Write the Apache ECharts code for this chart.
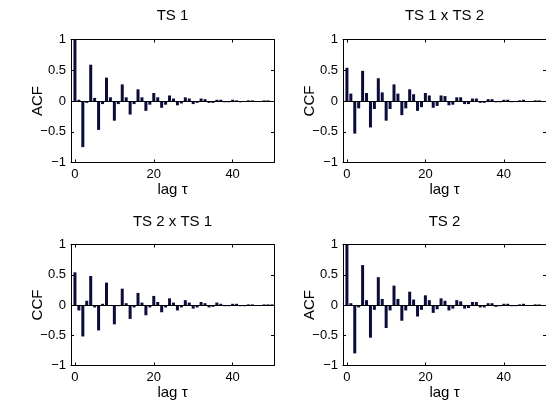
<!DOCTYPE html>
<html><head><meta charset="utf-8">
<script src="https://cdn.jsdelivr.net/npm/echarts@6/dist/echarts.min.js"></script>
<style>html,body{margin:0;padding:0;background:#fff}#c{width:546px;height:410px}</style>
</head><body><div id="c"></div>
<script>
const lags = Array.from({length: 51}, (_, i) => i);
const acfTS1 = [1.0,0.02,-0.75,-0.03,0.59,0.05,-0.47,-0.05,0.38,0.06,-0.32,-0.05,0.27,0.06,-0.22,-0.05,0.19,0.06,-0.16,-0.06,0.13,0.06,-0.11,-0.06,0.09,0.04,-0.07,-0.04,0.06,0.04,-0.05,-0.03,0.04,0.03,-0.03,-0.03,0.02,0.02,-0.02,-0.02,0.02,0.01,-0.02,-0.01,0.01,0.01,-0.01,-0.01,0.01,0.01,-0.01];
const ccfTS1TS2 = [0.54,0.12,-0.53,-0.12,0.49,0.13,-0.43,-0.13,0.37,0.14,-0.32,-0.13,0.27,0.12,-0.23,-0.12,0.19,0.11,-0.16,-0.10,0.13,0.09,-0.11,-0.08,0.09,0.08,-0.07,-0.06,0.06,0.06,-0.05,-0.05,0.04,0.04,-0.03,-0.03,0.03,0.03,-0.02,-0.02,0.02,0.02,-0.02,-0.01,0.01,0.02,-0.01,-0.01,0.01,0.01,-0.01];
const ccfTS2TS1 = [0.54,-0.09,-0.52,0.07,0.48,-0.04,-0.42,0.02,0.37,0.00,-0.32,-0.02,0.27,0.03,-0.23,-0.04,0.20,0.04,-0.17,-0.04,0.15,0.05,-0.12,-0.04,0.11,0.04,-0.09,-0.04,0.08,0.04,-0.06,-0.04,0.05,0.03,-0.04,-0.03,0.04,0.02,-0.02,-0.02,0.02,0.02,-0.02,-0.02,0.01,0.01,-0.01,-0.01,0.01,0.01,0.01];
const acfTS2 = [1.0,0.03,-0.80,-0.04,0.66,0.08,-0.54,-0.08,0.46,0.10,-0.38,-0.09,0.32,0.10,-0.26,-0.09,0.22,0.09,-0.19,-0.08,0.16,0.08,-0.13,-0.07,0.11,0.07,-0.09,-0.06,0.08,0.06,-0.06,-0.05,0.05,0.05,-0.04,-0.04,0.03,0.03,-0.03,-0.02,0.02,0.02,-0.02,-0.02,0.01,0.02,-0.01,-0.01,0.01,0.01,-0.01];
const titles = ['TS 1', 'TS 1 x TS 2', 'TS 2 x TS 1', 'TS 2'];
const yNames = ['ACF', 'CCF', 'CCF', 'ACF'];
const xName = 'lag \u03c4';
const xTicks = [0, 20, 40];
const yTicks = [-1, -0.5, 0, 0.5, 1];
const yTickLabels = ['\u22121', '\u22120.5', '0', '0.5', '1'];
const seriesData = [acfTS1, ccfTS1TS2, ccfTS2TS1, acfTS2];

const FONT = 'Liberation Sans, Arial, sans-serif';
const grids = [
  {left: 71, top: 39.5, width: 203, height: 123},
  {left: 343, top: 39.5, width: 204, height: 123},
  {left: 71, top: 244.5, width: 203, height: 121},
  {left: 343, top: 244.5, width: 204, height: 121}
];
const xMax = [50.5, 50.75, 50.5, 50.75];
const titleOffset = [24, 24, 22.5, 22.5];
const option = {animation: false, grid: grids, xAxis: [], yAxis: [], series: [], graphic: []};
const line = () => ({show: true, onZero: false, lineStyle: {color: '#000', width: 1}});
grids.forEach((g, i) => {
  const tickStyle = () => ({show: true, inside: true, length: 3, lineStyle: {color: '#000', width: 1}});
  option.xAxis.push({
    type: 'value', gridIndex: i, min: -1, max: xMax[i], position: 'bottom',
    axisLine: line(), splitLine: {show: false},
    axisTick: Object.assign({customValues: xTicks}, tickStyle()),
    axisLabel: {customValues: xTicks, color: '#000', fontSize: 13, fontFamily: FONT, margin: 5},
    name: xName, nameLocation: 'middle', nameGap: 20, nameMoveOverlap: false,
    nameTextStyle: {color: '#000', fontSize: 15, fontFamily: FONT}
  });
  option.xAxis.push({
    type: 'value', gridIndex: i, min: -1, max: xMax[i], position: 'top',
    axisLine: line(), splitLine: {show: false},
    axisTick: Object.assign({customValues: xTicks}, tickStyle()),
    axisLabel: {show: false}
  });
  option.yAxis.push({
    type: 'value', gridIndex: i, min: -1, max: 1, position: 'left',
    axisLine: line(), splitLine: {show: false},
    axisTick: Object.assign({customValues: yTicks}, tickStyle()),
    axisLabel: {customValues: yTicks, color: '#000', fontSize: 13, fontFamily: FONT, margin: 5,
      formatter: v => yTickLabels[yTicks.indexOf(v)]},
    name: yNames[i], nameLocation: 'middle', nameGap: 26, nameRotate: 90, nameMoveOverlap: false,
    nameTextStyle: {color: '#000', fontSize: 15, fontFamily: FONT}
  });
  option.yAxis.push({
    type: 'value', gridIndex: i, min: -1, max: 1, position: 'right',
    axisLine: line(), splitLine: {show: false},
    axisTick: Object.assign({customValues: yTicks}, tickStyle()),
    axisLabel: {show: false}
  });
  option.series.push({
    type: 'bar', xAxisIndex: 2 * i, yAxisIndex: 2 * i,
    data: lags.map((l, k) => [l, seriesData[i][k]]),
    barWidth: 3,
    itemStyle: {color: '#0c0c3a'},
    markLine: {silent: true, symbol: 'none', label: {show: false},
      lineStyle: {color: '#000', width: 1, type: 'solid'}, data: [{yAxis: 0}]}
  });
  option.graphic.push({
    type: 'text', x: g.left + 101.5, y: g.top - titleOffset[i],
    style: {text: titles[i], fontSize: 15, fontFamily: FONT, fill: '#000', textAlign: 'center', textVerticalAlign: 'middle'}
  });
});
echarts.init(document.getElementById('c')).setOption(option);
</script></body></html>
